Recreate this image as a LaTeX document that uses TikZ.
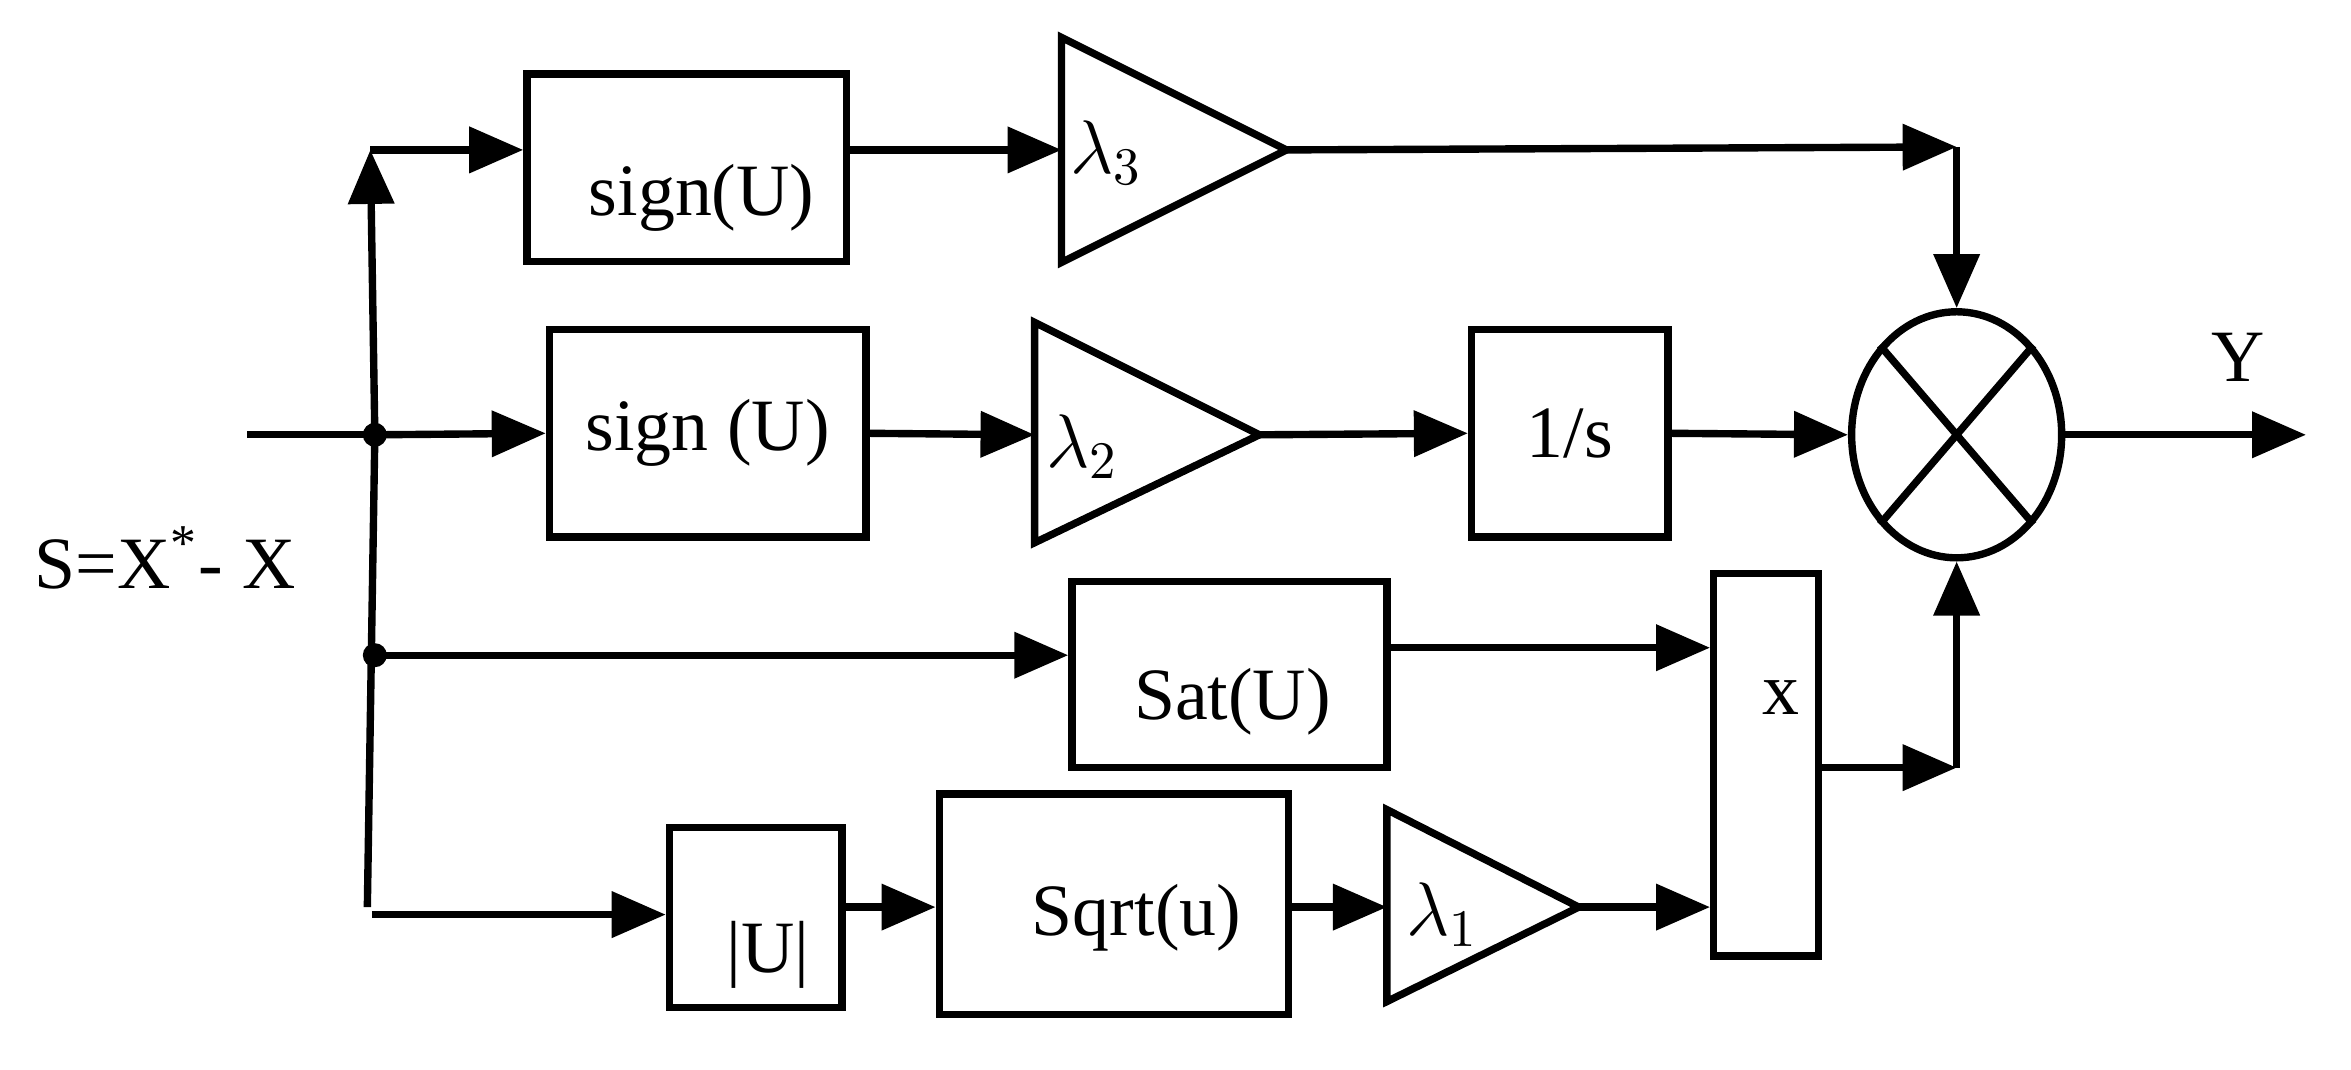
\documentclass[tikz,border=0pt]{standalone}
\usepackage{fontspec}
\setmainfont{Liberation Serif}
\usetikzlibrary{arrows.meta,positioning,shapes.geometric}
\tikzset{
  blk/.style={draw,line width=1.4pt,inner sep=0pt},
  wire/.style={line width=1.4pt},
  arr/.style={wire,-{Triangle[length=0.36cm,width=0.3cm]}},
  tri/.style={draw,line width=1.4pt},
}
\begin{document}
\begin{tikzpicture}[x=0.01cm,y=-0.01cm,font=\fontsize{14}{16}\selectfont]
\useasboundingbox (0,0) rectangle (1568,713);

% boxes
\node[blk,minimum width=2.13cm,minimum height=1.25cm] (sgn1) at (458,112) {};
\node at (468,132) {sign(U)};
\node[blk,minimum width=2.11cm,minimum height=1.38cm] (sgn2) at (472,289) {sign (U)};
\node[blk,minimum width=1.31cm,minimum height=1.38cm] (integ) at (1047,289) {1/s};
\node[blk,minimum width=2.10cm,minimum height=1.24cm] (sat) at (820,450) {};
\node at (822,468) {Sat(U)};
\node[blk,minimum width=0.70cm,minimum height=2.55cm] (mult) at (1178,510) {};
\node at (1188,465) {x};
\node[blk,minimum width=1.15cm,minimum height=1.20cm] (absu) at (504,612) {};
\node at (512,637) {|U|};
\node[blk,minimum width=2.33cm,minimum height=1.47cm] (sqrtu) at (743,603) {};
\node at (758,612) {Sqrt(u)};

% gains
\draw[tri] (708,25) -- (858,100) coordinate (g3out) -- (708,175) -- cycle;
\coordinate (g3in) at (708,100);
\node at (738,102) {$\lambda_3$};
\draw[tri] (690,215) -- (840,290) coordinate (g2out) -- (690,362) -- cycle;
\coordinate (g2in) at (690,290);
\node at (722,298) {$\lambda_2$};
\draw[tri] (925,540) -- (1053,605) coordinate (g1out) -- (925,668) -- cycle;
\coordinate (g1in) at (925,605);
\node at (962,610) {$\lambda_1$};

% product junction
\node[draw,line width=1.4pt,ellipse,minimum width=1.40cm,minimum height=1.64cm,inner sep=0pt] (prod) at (1305,290) {};
\draw[wire] (prod.north west) -- (prod.south east);
\draw[wire] (prod.north east) -- (prod.south west);

% input
\coordinate (in) at (165,290);
\coordinate (j1) at (250,290);
\coordinate (j2) at (250,437);
\coordinate (top) at (247,100);
\coordinate (bot) at (245,605);
\node at (110,372) {S=X\textsuperscript{*}- X};
\fill (j1) circle (0.08cm);
\fill (j2) circle (0.08cm);
\draw[wire] (in) -- (j1);
\draw[wire] (j1) -- (bot);
\draw[arr] (j1) -- (top);
\draw[arr] (top) -- (sgn1.west |- top);
\draw[arr] (sgn1.east |- top) -- (g3in);
\coordinate (c3) at (1305,98);
\draw[arr] (g3out) -- (c3);
\draw[arr] (c3) -- (prod.north);

\draw[arr] (j1) -- (sgn2.west);
\draw[arr] (sgn2.east) -- (g2in);
\draw[arr] (g2out) -- (integ.west);
\draw[arr] (integ.east) -- (prod.west);
\coordinate (out) at (1538,290);
\draw[arr] (prod.east) -- (out);
\node at (1493,238) {Y};

\draw[arr] (j2) -- (sat.west |- j2);
\draw[arr] (sat.east |- 0,432) -- (mult.west |- 0,432);

\coordinate (b4) at (248,610);
\draw[arr] (b4) -- (absu.west |- b4);
\draw[arr] (absu.east |- 0,605) -- (sqrtu.west |- 0,605);
\draw[arr] (sqrtu.east |- g1in) -- (g1in);
\draw[arr] (g1out) -- (mult.west |- g1out);

\coordinate (c4) at (1305,512);
\draw[arr] (mult.east |- c4) -- (c4);
\draw[arr] (c4) -- (prod.south);
\end{tikzpicture}
\end{document}
